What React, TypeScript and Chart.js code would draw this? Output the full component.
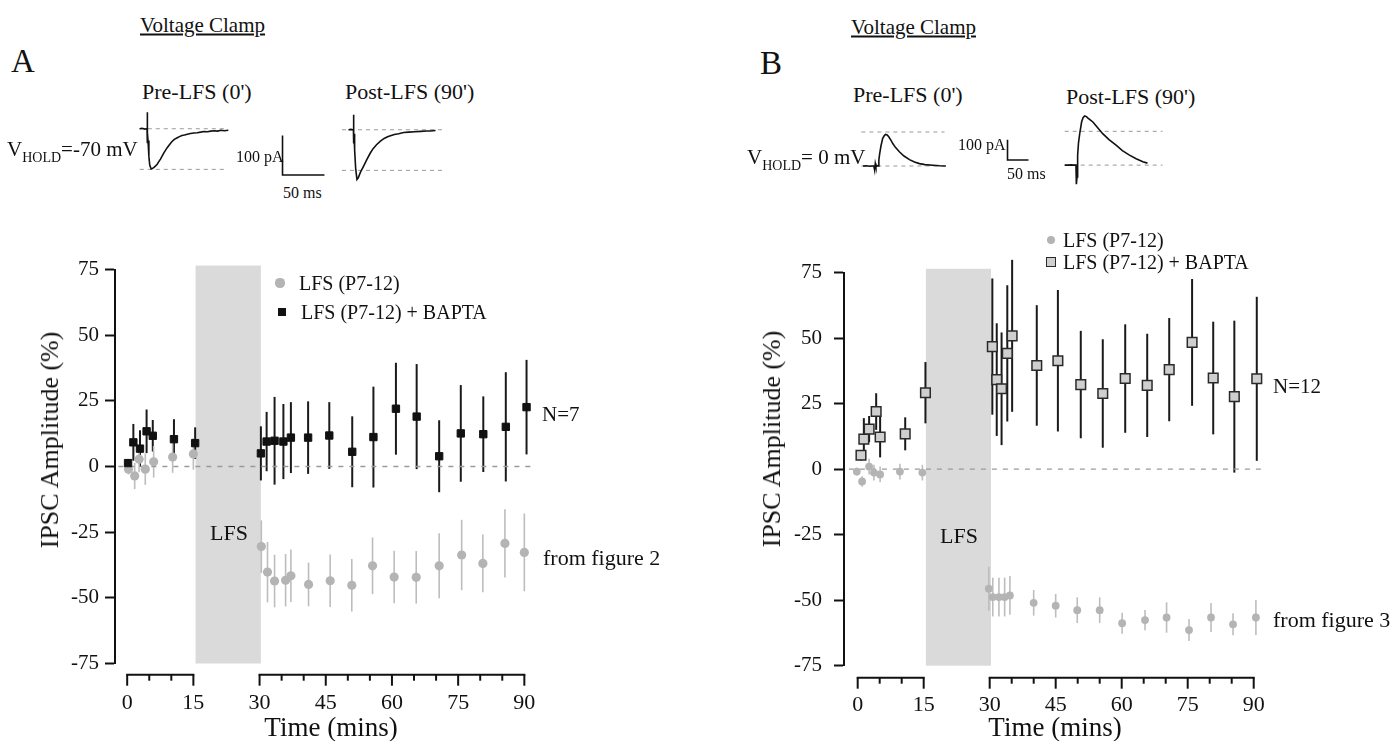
import React, { useEffect, useRef } from "react";
import { Chart, registerables } from "chart.js";

Chart.register(...registerables);

const FONT = '"Liberation Serif", "Times New Roman", serif';
const INK = "#111";

// ---------- shared axis data ----------
const X_TICKS = [0, 15, 30, 45, 60, 75, 90];
const Y_TICKS = [-75, -50, -25, 0, 25, 50, 75];
const X_AXIS_SEGMENTS = [[0, 15], [30, 90]];
const LFS_START = 15.5;
const LFS_END = 30.3;
const LFS_TOP = 76.5;
const ZERO_LINE_X = [-2, 92.5];

// ---------- Panel A (Vhold -70 mV) ----------
const A_CTRL_X = [0.3, 1.7, 2.7, 4.1, 6.0, 10.3, 15.0, 30.4, 31.8, 33.4, 35.9, 37.1, 41.1, 46.0, 50.9, 55.6, 60.5, 65.5, 70.7, 75.8, 80.6, 85.6, 90.0];
const A_CTRL_Y = [-1.0, -3.6, 2.8, -1.0, 1.8, 3.6, 4.8, -30.5, -40.2, -43.6, -43.3, -41.6, -44.9, -43.5, -45.2, -37.8, -42.1, -42.2, -37.8, -33.7, -36.9, -29.3, -32.7];
const A_CTRL_ERR = [2, 5, 5, 6, 6, 6, 6, 10, 11.5, 10, 10, 10, 8.3, 10, 10, 10.8, 10, 10, 12.4, 13.4, 11, 13, 14.8];

const A_BAPTA_X = [0.2, 1.4, 2.9, 4.4, 5.8, 10.6, 15.4, 30.3, 31.6, 33.4, 35.4, 37.1, 41.0, 45.8, 51.0, 55.8, 60.9, 65.6, 70.7, 75.6, 80.7, 85.8, 90.5];
const A_BAPTA_Y = [1.3, 9.2, 6.8, 13.4, 11.7, 10.4, 8.9, 5.0, 9.5, 9.8, 9.5, 11.0, 11.0, 11.8, 5.6, 11.2, 22.0, 19.0, 3.9, 12.6, 12.3, 15.1, 22.6];
const A_BAPTA_ERR = [1.5, 7, 7, 8.3, 6, 7.6, 6, 10.3, 11.3, 16.7, 14.3, 13.5, 13.8, 12.7, 13.5, 19.2, 17.5, 20, 13.7, 18.4, 14.4, 20.8, 18];

// ---------- Panel B (Vhold 0 mV) ----------
const B_CTRL_X = [-0.2, 1.0, 2.6, 3.7, 5.1, 9.6, 14.7, 29.8, 30.7, 32.1, 33.4, 34.6, 40.0, 45.0, 49.9, 55.0, 60.1, 65.3, 70.2, 75.3, 80.3, 85.3, 90.5];
const B_CTRL_Y = [-0.9, -4.7, 1.0, -1.3, -2.0, -0.9, -1.3, -45.6, -48.8, -48.8, -48.8, -48.2, -51.0, -52.1, -53.8, -53.8, -58.8, -57.6, -56.6, -61.4, -56.6, -59.2, -56.6];
const B_CTRL_ERR = [1.5, 2, 3, 3, 3, 3, 3, 8.4, 7.4, 7.4, 7.4, 7.4, 4.9, 4.5, 4.9, 4.9, 4.0, 3.9, 5.8, 4.2, 5.5, 4.2, 6.7];

const B_BAPTA_X = [0.75, 1.4, 2.6, 4.2, 5.1, 10.8, 15.4, 30.6, 31.6, 32.7, 34.0, 35.1, 40.7, 45.5, 50.7, 55.7, 60.8, 65.8, 70.8, 76.0, 80.8, 85.6, 90.7];
const B_BAPTA_Y = [5.3, 11.5, 15.3, 22.0, 12.3, 13.5, 29.2, 46.8, 34.2, 30.7, 44.2, 50.9, 39.6, 41.4, 32.3, 28.9, 34.6, 32.0, 38.0, 48.4, 34.8, 27.7, 34.5];
const B_BAPTA_ERR = [2, 8, 5, 7, 7.8, 6.3, 11.7, 26, 21.5, 21.5, 26, 29, 23, 27, 20.5, 20.7, 20.7, 19.7, 19.7, 24.2, 21.5, 29, 31.3];

// ---------- example current traces (ms, pA) ----------
const A_PRE_T = [-9, -6, -3, -1, -0.2, 0, 0.2, 0.5, 1, 2, 3, 4.7, 6, 8, 10, 11.8, 13.5, 15.7, 19.5, 23.6, 26, 29, 32, 35.5, 38, 41, 44, 47.3, 51, 55, 59, 63, 67, 71, 75, 79, 83, 87, 91, 95.7];
const A_PRE_I = [0, 1, -1, 0, 0, 42, -37, -10, -30, -70, -92, -102, -101, -98, -94, -90, -84, -77, -62, -48, -41, -33, -27, -23, -20, -17, -16, -14, -12, -11, -10, -8.6, -7, -7.5, -6, -5, -6, -4, -5, -4];
const A_POST_T = [-6, -3, -1, -0.2, 0, 0.2, 0.5, 1.2, 2.5, 4, 5.5, 8, 11.8, 15.7, 19.7, 23, 27, 31.6, 36, 40, 43.4, 48, 53, 59, 65, 72, 79, 86, 90, 96.5];
const A_POST_I = [0, 1, 0, 0, 38, -35, -10, -50, -100, -126, -122, -108, -92, -75, -59, -48, -38, -29, -22, -18, -15, -12, -10, -7, -6, -5, -4, -3, -3, -2];
const A_DASH_LEVELS = [0, -103];
const A_PRE_DASH_T = [-8.7, 92.4];
const A_POST_DASH_T = [-13.7, 105.6];

const B_PRE_T = [-28, -20, -12, -6, -2, 0, 1.5, 3, 6, 8, 10, 12, 15, 19, 23, 26, 30, 34, 39, 43.6, 50, 59.5, 70, 83, 95, 107, 120, 139, 155, 170];
const B_PRE_I = [0, 1, -1, 0, 0, -21, 12, -3, 2, 0, 30, 62, 100, 137, 152, 158, 155, 145, 128, 111, 92, 70, 50, 32, 20, 12, 7, 3.5, 1, 0];
const B_POST_T = [-28, -20, -12, -6, -1, 0, 1.5, 3, 5, 8, 12.6, 16, 19.8, 24, 27, 33, 39.5, 50, 63, 78, 95, 110, 127, 143, 159, 170];
const B_POST_I = [0, 0, 1, 0, 0, -96, -60, 50, 110, 158, 218, 238, 247, 244, 238, 228, 217, 190, 158, 128, 100, 73, 50, 32, 17, 10];
const B_DASH_LEVELS = [0, 170];
const B_PRE_DASH_T = [-31.7, 166.7];
const B_POST_DASH_T = [-27.9, 206];

const SCALEBAR_T = [0, 0, 50];
const SCALEBAR_I = [100, 0, 0];

// ---------- helpers ----------
const pts = (xs: number[], ys: number[]) => xs.map((x, i) => ({ x, y: ys[i] }));

type MainSpec = {
  left: number; top: number; width: number; height: number;
  xMin: number; xMax: number; yAxisWidth: number; xAxisHeight: number;
  padTop: number; padRight: number; yLabelPad: number; xLabelPad: number; axisOffset: number;
  ctrl: { x: number[]; y: number[]; err: number[] };
  bapta: { x: number[]; y: number[]; err: number[] };
  ctrlRadius: number; baptaRadius: number; baptaFill: string; baptaBorder: string; baptaBorderWidth: number;
};

function MainPanel({ spec }: { spec: MainSpec }) {
  const ref = useRef<HTMLCanvasElement>(null);
  useEffect(() => {
    const decor = {
      id: "panelDecor",
      beforeDatasetsDraw(chart: any) {
        const { ctx } = chart;
        const xs = chart.scales.x;
        const ys = chart.scales.y;
        ctx.save();
        // LFS band
        const bx1 = xs.getPixelForValue(LFS_START);
        const bx2 = xs.getPixelForValue(LFS_END);
        const by1 = ys.getPixelForValue(LFS_TOP);
        const by2 = ys.getPixelForValue(-75);
        ctx.fillStyle = "#dadada";
        ctx.fillRect(bx1, by1, bx2 - bx1, by2 - by1);
        // error bars
        chart.data.datasets.forEach((ds: any) => {
          if (!ds.errorBars) return;
          ctx.strokeStyle = ds.errorBarColor;
          ctx.lineWidth = ds.errorBarWidth;
          ds.data.forEach((p: any, i: number) => {
            const e = ds.errorBars[i];
            const px = xs.getPixelForValue(p.x);
            ctx.beginPath();
            ctx.moveTo(px, ys.getPixelForValue(p.y + e));
            ctx.lineTo(px, ys.getPixelForValue(p.y - e));
            ctx.stroke();
          });
        });
        ctx.restore();
      },
      afterDraw(chart: any) {
        const { ctx, chartArea } = chart;
        const xs = chart.scales.x;
        const y0 = chartArea.bottom + spec.axisOffset;
        ctx.save();
        ctx.strokeStyle = INK;
        ctx.lineWidth = 2;
        X_AXIS_SEGMENTS.forEach(([a, b]) => {
          const pa = xs.getPixelForValue(a);
          const pb = xs.getPixelForValue(b);
          ctx.beginPath();
          ctx.moveTo(pa - 1, y0);
          ctx.lineTo(pb + 1, y0);
          ctx.stroke();
          for (let v = a; v <= b; v += 5) {
            const len = v % 15 === 0 ? 11 : 6;
            const px = xs.getPixelForValue(v);
            ctx.beginPath();
            ctx.moveTo(px, y0);
            ctx.lineTo(px, y0 + len);
            ctx.stroke();
          }
        });
        ctx.restore();
      },
    };

    const chart = new Chart(ref.current as HTMLCanvasElement, {
      type: "scatter",
      data: {
        datasets: [
          {
            label: "LFS (P7-12) + BAPTA",
            data: pts(spec.bapta.x, spec.bapta.y),
            pointStyle: "rect",
            pointRadius: spec.baptaRadius,
            backgroundColor: spec.baptaFill,
            borderColor: spec.baptaBorder,
            borderWidth: spec.baptaBorderWidth,
            errorBars: spec.bapta.err,
            errorBarColor: "#1a1a1a",
            errorBarWidth: 2,
            order: 0,
          } as any,
          {
            label: "LFS (P7-12)",
            data: pts(spec.ctrl.x, spec.ctrl.y),
            pointStyle: "circle",
            pointRadius: spec.ctrlRadius,
            backgroundColor: "#b4b4b4",
            borderColor: "#b4b4b4",
            borderWidth: 0,
            errorBars: spec.ctrl.err,
            errorBarColor: "#bdbdbd",
            errorBarWidth: 1.6,
            order: 1,
          } as any,
          {
            label: "zero",
            data: [{ x: ZERO_LINE_X[0], y: 0 }, { x: ZERO_LINE_X[1], y: 0 }],
            showLine: true,
            borderColor: "#9a9a9a",
            borderWidth: 1.3,
            borderDash: [5, 6],
            pointRadius: 0,
            order: 2,
          } as any,
        ],
      },
      options: {
        responsive: false,
        animation: false,
        events: [],
        clip: false as any,
        layout: { padding: { top: spec.padTop, right: spec.padRight, left: 0, bottom: 0 } },
        plugins: { legend: { display: false }, tooltip: { enabled: false } },
        scales: {
          x: {
            type: "linear",
            min: spec.xMin,
            max: spec.xMax,
            grid: { display: false, drawTicks: false },
            border: { display: false },
            ticks: { font: { family: FONT, size: 22 }, color: INK, padding: spec.xLabelPad, maxRotation: 0, autoSkip: false },
            afterBuildTicks: (s: any) => { s.ticks = X_TICKS.map((v) => ({ value: v })); },
            afterFit: (s: any) => { s.height = spec.xAxisHeight; },
          },
          y: {
            type: "linear",
            min: -75,
            max: 75,
            grid: { drawOnChartArea: false, drawTicks: true, tickLength: 10, tickWidth: 2, tickColor: INK },
            border: { display: true, color: INK, width: 2 },
            ticks: { font: { family: FONT, size: 21 }, color: INK, padding: spec.yLabelPad },
            afterBuildTicks: (s: any) => { s.ticks = Y_TICKS.map((v) => ({ value: v })); },
            afterFit: (s: any) => { s.width = spec.yAxisWidth; },
          },
        },
      } as any,
      plugins: [decor],
    });
    return () => chart.destroy();
  }, []);
  return (
    <canvas
      ref={ref}
      width={spec.width}
      height={spec.height}
      style={{ position: "absolute", left: spec.left, top: spec.top, width: spec.width, height: spec.height }}
    />
  );
}

type TraceSpec = {
  anchorX: number; anchorY: number; pxX: number; pxY: number;
  xMin: number; xMax: number; yMin: number; yMax: number;
  datasets: any[];
};

function TracePlot({ spec }: { spec: TraceSpec }) {
  const ref = useRef<HTMLCanvasElement>(null);
  const w = Math.round((spec.xMax - spec.xMin) * spec.pxX);
  const h = Math.round((spec.yMax - spec.yMin) * spec.pxY);
  const left = Math.round(spec.anchorX + spec.xMin * spec.pxX);
  const top = Math.round(spec.anchorY - spec.yMax * spec.pxY);
  useEffect(() => {
    const chart = new Chart(ref.current as HTMLCanvasElement, {
      type: "line",
      data: { datasets: spec.datasets },
      options: {
        responsive: false,
        animation: false,
        events: [],
        layout: { padding: 0 },
        plugins: { legend: { display: false }, tooltip: { enabled: false } },
        elements: { point: { radius: 0 }, line: { tension: 0 } },
        scales: {
          x: { type: "linear", display: false, min: spec.xMin, max: spec.xMax },
          y: { type: "linear", display: false, min: spec.yMin, max: spec.yMax },
        },
      } as any,
    });
    return () => chart.destroy();
  }, []);
  return <canvas ref={ref} width={w} height={h} style={{ position: "absolute", left, top, width: w, height: h }} />;
}

const traceLine = (t: number[], i: number[]) => ({ data: pts(t, i), borderColor: INK, borderWidth: 1.6, fill: false });
const dashLines = (span: number[], levels: number[]) =>
  levels.map((lv) => ({
    data: [{ x: span[0], y: lv }, { x: span[1], y: lv }],
    borderColor: "#9a9a9a",
    borderWidth: 1,
    borderDash: [4, 4],
    fill: false,
  }));

// ---------- layout ----------
const A_PX = { x: 0.846, y: 0.397 };
const B_PX = { x: 0.42, y: 0.2 };

const TRACES: TraceSpec[] = [
  { anchorX: 146.7, anchorY: 129.3, pxX: A_PX.x, pxY: A_PX.y, xMin: -12, xMax: 100, yMin: -135, yMax: 50,
    datasets: [traceLine(A_PRE_T, A_PRE_I), ...dashLines(A_PRE_DASH_T, A_DASH_LEVELS)] },
  { anchorX: 353.3, anchorY: 130, pxX: A_PX.x, pxY: A_PX.y, xMin: -16, xMax: 110, yMin: -135, yMax: 45,
    datasets: [traceLine(A_POST_T, A_POST_I), ...dashLines(A_POST_DASH_T, A_DASH_LEVELS)] },
  { anchorX: 282.7, anchorY: 175.7, pxX: A_PX.x, pxY: A_PX.y, xMin: -3, xMax: 53, yMin: -5, yMax: 104,
    datasets: [traceLine(SCALEBAR_T, SCALEBAR_I)] },
  { anchorX: 875, anchorY: 165.7, pxX: B_PX.x, pxY: B_PX.y, xMin: -35, xMax: 175, yMin: -120, yMax: 180,
    datasets: [traceLine(B_PRE_T, B_PRE_I), ...dashLines(B_PRE_DASH_T, B_DASH_LEVELS)] },
  { anchorX: 1076.7, anchorY: 165.7, pxX: B_PX.x, pxY: B_PX.y, xMin: -32, xMax: 212, yMin: -120, yMax: 262,
    datasets: [traceLine(B_POST_T, B_POST_I), ...dashLines(B_POST_DASH_T, B_DASH_LEVELS)] },
  { anchorX: 1007.3, anchorY: 159.3, pxX: B_PX.x, pxY: B_PX.y, xMin: -6, xMax: 56, yMin: -10, yMax: 108,
    datasets: [traceLine(SCALEBAR_T, SCALEBAR_I)] },
];

const PANEL_A: MainSpec = {
  left: 0, top: 230, width: 699, height: 511,
  xMin: -2.76, xMax: 95, yAxisWidth: 115, xAxisHeight: 77.5, padTop: 39.5, padRight: 152.6,
  yLabelPad: 6, xLabelPad: 26.8, axisOffset: 11.2,
  ctrl: { x: A_CTRL_X, y: A_CTRL_Y, err: A_CTRL_ERR },
  bapta: { x: A_BAPTA_X, y: A_BAPTA_Y, err: A_BAPTA_ERR },
  ctrlRadius: 4.6, baptaRadius: 5.2, baptaFill: "#111", baptaBorder: "#111", baptaBorderWidth: 1,
};

const PANEL_B: MainSpec = {
  left: 699, top: 230, width: 699, height: 511,
  xMin: -3.11, xMax: 95, yAxisWidth: 145, xAxisHeight: 75.3, padTop: 42.7, padRight: 122.3,
  yLabelPad: 12, xLabelPad: 26.6, axisOffset: 12,
  ctrl: { x: B_CTRL_X, y: B_CTRL_Y, err: B_CTRL_ERR },
  bapta: { x: B_BAPTA_X, y: B_BAPTA_Y, err: B_BAPTA_ERR },
  ctrlRadius: 3.9, baptaRadius: 6.8, baptaFill: "#cfcfcf", baptaBorder: "#2a2a2a", baptaBorderWidth: 1.5,
};

function Txt({ x, cy, size, children, style }: { x: number; cy: number; size: number; children: any; style?: any }) {
  return (
    <div style={{ position: "absolute", left: x, top: cy, transform: "translateY(-50%)", fontSize: size, lineHeight: 1, whiteSpace: "nowrap", ...style }}>
      {children}
    </div>
  );
}

function CTxt({ cx, cy, size, rotate, children }: { cx: number; cy: number; size: number; rotate?: boolean; children: any }) {
  return (
    <div style={{ position: "absolute", left: cx, top: cy, transform: `translate(-50%, -50%)${rotate ? " rotate(-90deg)" : ""}`, fontSize: size, lineHeight: 1, whiteSpace: "nowrap" }}>
      {children}
    </div>
  );
}

function Marker({ cx, cy, kind }: { cx: number; cy: number; kind: "circA" | "sqA" | "circB" | "sqB" }) {
  const base: any = { position: "absolute", boxSizing: "border-box" };
  if (kind === "circA") return <div style={{ ...base, left: cx - 4.6, top: cy - 4.6, width: 9.2, height: 9.2, borderRadius: "50%", background: "#b4b4b4" }} />;
  if (kind === "circB") return <div style={{ ...base, left: cx - 4.2, top: cy - 4.2, width: 8.4, height: 8.4, borderRadius: "50%", background: "#b4b4b4" }} />;
  if (kind === "sqA") return <div style={{ ...base, left: cx - 4, top: cy - 4, width: 8, height: 8, background: "#111" }} />;
  return <div style={{ ...base, left: cx - 5, top: cy - 5, width: 10, height: 10, background: "#cfcfcf", border: "1.5px solid #2a2a2a" }} />;
}

export default function App() {
  useEffect(() => {
    document.body.style.margin = "0";
  }, []);
  return (
    <div style={{ position: "relative", width: 1398, height: 741, background: "#fff", overflow: "hidden", fontFamily: FONT, color: INK }}>
      <MainPanel spec={PANEL_A} />
      <MainPanel spec={PANEL_B} />
      {TRACES.map((t, i) => (
        <TracePlot key={i} spec={t} />
      ))}

      {/* Panel A texts */}
      <Txt x={140} cy={25} size={21} style={{ textDecoration: "underline" }}>Voltage Clamp</Txt>
      <Txt x={11} cy={61} size={33}>A</Txt>
      <Txt x={142} cy={92} size={22}>Pre-LFS (0')</Txt>
      <Txt x={345} cy={92} size={22}>Post-LFS (90')</Txt>
      <Txt x={7} cy={149} size={21}>
        V<span style={{ fontSize: 14, position: "relative", top: 6 }}>HOLD</span>=-70 mV
      </Txt>
      <Txt x={236} cy={157} size={16}>100 pA</Txt>
      <Txt x={283} cy={193} size={16}>50 ms</Txt>
      <CTxt cx={50} cy={440} size={26} rotate>IPSC Amplitude (%)</CTxt>
      <CTxt cx={331} cy={727} size={27}>Time (mins)</CTxt>
      <Txt x={210} cy={533} size={22}>LFS</Txt>
      <Marker cx={280} cy={283} kind="circA" />
      <Txt x={299} cy={283} size={20}>LFS (P7-12)</Txt>
      <Marker cx={282} cy={312} kind="sqA" />
      <Txt x={301} cy={312} size={20}>LFS (P7-12) + BAPTA</Txt>
      <Txt x={542} cy={414} size={21}>N=7</Txt>
      <Txt x={543} cy={558} size={22}>from figure 2</Txt>

      {/* Panel B texts */}
      <Txt x={851} cy={27} size={21} style={{ textDecoration: "underline" }}>Voltage Clamp</Txt>
      <Txt x={760} cy={63} size={33}>B</Txt>
      <Txt x={853} cy={95} size={22}>Pre-LFS (0')</Txt>
      <Txt x={1066} cy={97} size={22}>Post-LFS (90')</Txt>
      <Txt x={747} cy={157} size={21}>
        V<span style={{ fontSize: 14, position: "relative", top: 6 }}>HOLD</span>= 0 mV
      </Txt>
      <Txt x={958} cy={145} size={16}>100 pA</Txt>
      <Txt x={1007} cy={174} size={16}>50 ms</Txt>
      <CTxt cx={772} cy={439} size={26} rotate>IPSC Amplitude (%)</CTxt>
      <CTxt cx={1055} cy={727} size={27}>Time (mins)</CTxt>
      <Txt x={940} cy={536} size={22}>LFS</Txt>
      <Marker cx={1050.7} cy={240} kind="circB" />
      <Txt x={1063} cy={240} size={20}>LFS (P7-12)</Txt>
      <Marker cx={1050.7} cy={262} kind="sqB" />
      <Txt x={1063} cy={262} size={20}>LFS (P7-12) + BAPTA</Txt>
      <Txt x={1273} cy={386} size={21}>N=12</Txt>
      <Txt x={1273} cy={620} size={22}>from figure 3</Txt>
    </div>
  );
}
